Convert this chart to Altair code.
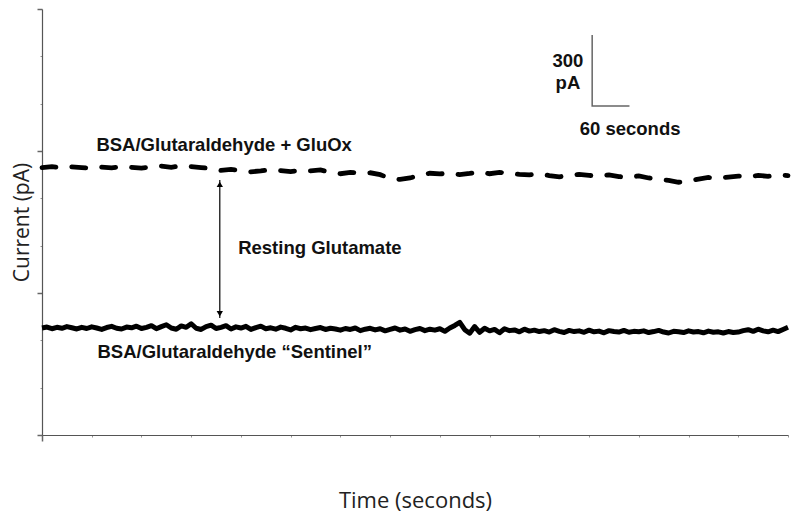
import altair as alt
import pandas as pd

# ---- data (time in seconds, current in pA) ----
gluox_time = [i * 16 for i in range(76)]
gluox_current = [
    1130, 1134, 1128, 1133, 1130, 1127, 1132, 1129, 1134, 1131,
    1128, 1133, 1136, 1131, 1138, 1134, 1130, 1126, 1118, 1122,
    1117, 1112, 1116, 1121, 1117, 1113, 1119, 1116, 1120, 1109,
    1104, 1110, 1106, 1108, 1100, 1084, 1080, 1086, 1098, 1106,
    1103, 1107, 1100, 1105, 1112, 1104, 1110, 1105, 1101, 1099,
    1104, 1096, 1091, 1097, 1101, 1097, 1094, 1099, 1092, 1088,
    1095, 1086, 1080, 1076, 1068, 1074, 1081, 1088, 1085, 1090,
    1094, 1091, 1097, 1093, 1099, 1096,
]

sentinel_time = [i * 8 for i in range(151)]
sentinel_current = [
    452, 456, 449, 455, 451, 458, 453, 448, 455, 450, 457, 452, 446, 454, 459, 451, 448, 456, 453, 460, 450,
    455, 462, 449, 458, 466, 452, 447, 461, 455, 470, 451, 446, 458, 464, 450, 455, 462, 448, 457, 452,
    459, 446, 454, 460, 449, 453, 447, 456, 451, 444, 455, 449, 452, 445, 450, 454, 446, 451, 448, 443,
    450, 446, 452, 441, 447, 451, 444, 449, 440, 446, 452, 443, 448, 438, 445, 450, 441, 447, 443, 449,
    438, 452, 463, 476, 445, 430, 458, 434, 451, 440, 446, 432, 449, 441, 444, 436, 447, 439, 443, 437,
    441, 435, 445, 438, 433, 442, 437, 440, 434, 443, 436, 439, 432, 441, 437, 435, 442, 434, 438, 436,
    440, 433, 437, 442, 435, 431, 438, 436, 433, 440, 435, 437, 432, 439, 434, 436, 431, 437, 433, 435,
    441, 445, 438, 447, 440, 436, 443, 437, 446, 455,
]

x_ticks = [i * 5 for i in range(241)]
y_ticks = [i * 25 for i in range(73)]

labels_text = ["BSA/Glutaraldehyde + GluOx", "Resting Glutamate", "BSA/Glutaraldehyde \u201cSentinel\u201d",
               "300", "pA", "60 seconds"]
labels_x = [293, 447, 310, 846, 846, 946]
labels_y = [1225, 790, 350, 1580, 1487, 1293]

arrow_time = 286
arrow_top = 1077
arrow_bottom = 494

bar_time = [885, 945]
bar_current = [1390, 1690]

# ---- frames ----
df_gluox = pd.DataFrame({"t": gluox_time, "c": gluox_current})
df_sent = pd.DataFrame({"t": sentinel_time, "c": sentinel_current})
df_labels = pd.DataFrame({"text": labels_text, "t": labels_x, "c": labels_y})

X = alt.X("t:Q", scale=alt.Scale(domain=[0, 1200], nice=False, zero=False),
          axis=alt.Axis(title="Time (seconds)", values=x_ticks, labels=False, grid=False,
                        domainColor="#555555", domainWidth=1.2,
                        tickColor="#666666",
                        tickSize={"condition": {"test": "datum.value % 125 === 0", "value": 6}, "value": 2},
                        tickWidth={"condition": {"test": "datum.value % 125 === 0", "value": 1.5}, "value": 0.7},
                        titleFont="Open Sans", titleFontSize=22, titleFontWeight="normal",
                        titleColor="#222222", titleX=373, titleY=65, titleBaseline="middle",
                        titleAlign="center", titleAnchor="middle"))
Y = alt.Y("c:Q", scale=alt.Scale(domain=[0, 1800], nice=False, zero=False),
          axis=alt.Axis(title="Current (pA)", values=y_ticks, labels=False, grid=False,
                        domainColor="#555555", domainWidth=1.2,
                        tickColor="#666666",
                        tickSize={"condition": {"test": "datum.value % 600 === 0", "value": 5}, "value": 2},
                        tickWidth={"condition": {"test": "datum.value % 600 === 0", "value": 1.5}, "value": 0.7},
                        titleFont="Open Sans", titleFontSize=21, titleFontWeight="normal",
                        titleColor="#222222", titleX=-20, titleY=213, titleBaseline="middle",
                        titleAlign="center", titleAngle=270))

gluox = alt.Chart(df_gluox).mark_line(color="black", strokeWidth=4.8, strokeDash=[14, 16],
                                      strokeCap="round").encode(x=X, y=Y)
sent = alt.Chart(df_sent).mark_line(color="black", strokeWidth=5,
                                    strokeJoin="round").encode(x=X, y=Y)

df_arrow = pd.DataFrame({"t": [arrow_time], "c": [arrow_top], "c2": [arrow_bottom]})
arrow = alt.Chart(df_arrow).mark_rule(color="black", strokeWidth=1.2).encode(
    x="t:Q", y="c:Q", y2="c2:Q")
df_heads = pd.DataFrame({"t": [arrow_time, arrow_time],
                         "c": [arrow_top - 18, arrow_bottom + 18],
                         "shape": ["triangle-up", "triangle-down"]})
heads = alt.Chart(df_heads).mark_point(filled=True, color="black", size=40, opacity=1).encode(
    x="t:Q", y="c:Q", shape=alt.Shape("shape:N", scale=None, legend=None))

df_bar = pd.DataFrame({"t": [bar_time[0], bar_time[0], bar_time[1]],
                       "c": [bar_current[1], bar_current[0], bar_current[0]],
                       "o": [0, 1, 2]})
scalebar = alt.Chart(df_bar).mark_line(color="#666666", strokeWidth=1.5).encode(
    x="t:Q", y="c:Q", order="o:Q")

texts = alt.Chart(df_labels).mark_text(font="Liberation Sans", fontWeight="bold", fontSize=18.5,
                                       color="#111111", align="center", baseline="middle").encode(
    x="t:Q", y="c:Q", text="text:N")

chart = alt.layer(sent, gluox, arrow, heads, scalebar, texts).properties(
    width=746, height=426,
    autosize=alt.AutoSizeParams(type="none"),
    padding={"left": 34, "top": 1, "right": 4, "bottom": 90},
).configure_view(stroke=None)

chart.save("out.html", embed_options={"renderer": "svg", "actions": False})
